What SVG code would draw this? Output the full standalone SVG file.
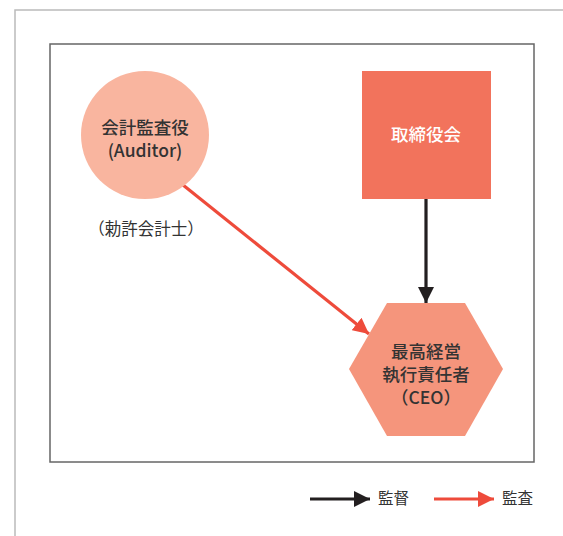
<svg xmlns="http://www.w3.org/2000/svg" width="563" height="536" viewBox="0 0 563 536">
<defs>
<style>
.lbl{font-family:"Noto Sans CJK JP","Noto Sans",sans-serif;font-size:17.5px;font-weight:500;fill:#333;text-anchor:middle}
.lg{font-family:"Noto Sans CJK JP","Noto Sans",sans-serif;font-size:15.5px;fill:#333}
</style>
<marker id="ab" viewBox="0 0 10 10" refX="10" refY="5" markerWidth="5" markerHeight="5" orient="auto" markerUnits="strokeWidth"><path d="M0,0L10,5L0,10z" fill="#231f20"/></marker>
<marker id="ar" viewBox="0 0 10 10" refX="10" refY="5" markerWidth="5" markerHeight="5" orient="auto" markerUnits="strokeWidth"><path d="M0,0L10,5L0,10z" fill="#ee4b3b"/></marker>
</defs>
<rect width="563" height="536" fill="#fff"/>
<path d="M15,536V10H563" fill="none" stroke="#bbb" stroke-width="1.5"/>
<rect x="50" y="44" width="484" height="418" fill="none" stroke="#666" stroke-width="1.5"/>
<g id="connectors">
<line x1="426" y1="199" x2="426" y2="303" stroke="#231f20" stroke-width="3.2" marker-end="url(#ab)"/>
<line x1="183" y1="185" x2="369" y2="334" stroke="#ee4b3b" stroke-width="3.2" marker-end="url(#ar)"/>
</g>
<g id="auditor">
<circle cx="145" cy="135" r="64" fill="#f9b59f"/>
<text class="lbl" x="145" y="134">会計監査役</text>
<text class="lbl" x="145" y="157">(Auditor)</text>
<text class="lbl" x="146" y="235" style="font-weight:400;font-size:16.5px">（勅許会計士）</text>
</g>
<g id="board">
<rect x="362" y="71" width="129" height="128" fill="#f2735c"/>
<text class="lbl" x="426" y="141" style="fill:#fff">取締役会</text>
</g>
<g id="ceo">
<polygon points="349,369 387,303 465,303 503,369 465,436 387,436" fill="#f5957c"/>
<text class="lbl" x="426" y="358">最高経営</text>
<text class="lbl" x="426" y="381">執行責任者</text>
<text class="lbl" x="426" y="404">（CEO）</text>
</g>
<g id="legend">
<line x1="310" y1="499" x2="370" y2="499" stroke="#231f20" stroke-width="3.2" marker-end="url(#ab)"/>
<text class="lg" x="378" y="504">監督</text>
<line x1="434" y1="499" x2="494" y2="499" stroke="#ee4b3b" stroke-width="3.2" marker-end="url(#ar)"/>
<text class="lg" x="502" y="504">監査</text>
</g>
</svg>
